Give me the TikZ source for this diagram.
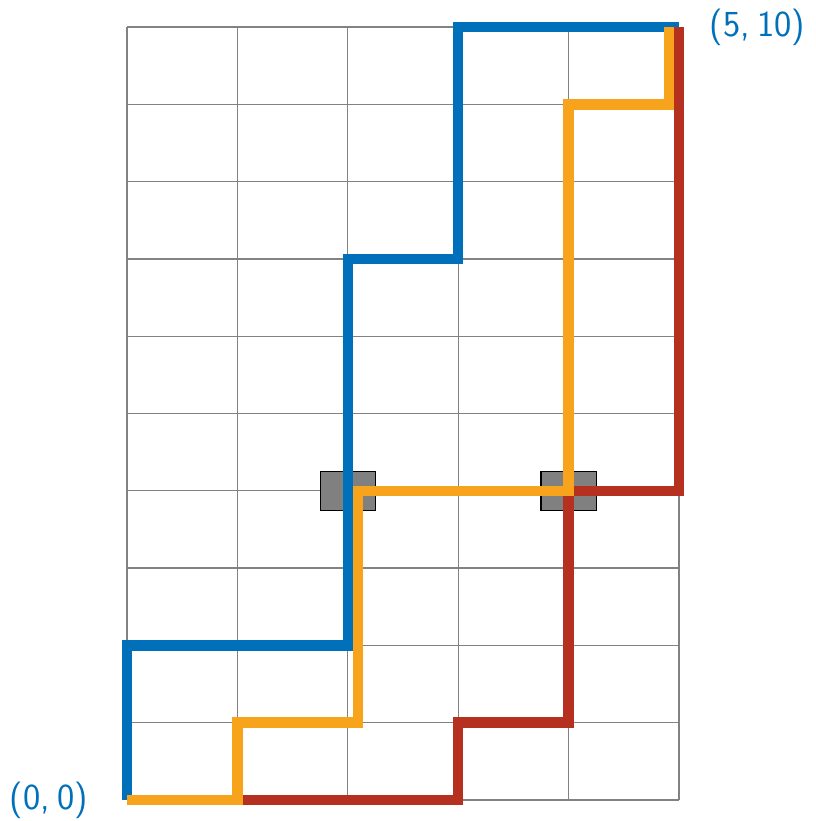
\documentclass[tikz,border=0pt]{standalone}
\usepackage{tikz}
\definecolor{pblue}{RGB}{0,112,186}
\definecolor{porange}{RGB}{247,163,28}
\definecolor{pred}{RGB}{181,48,30}
\definecolor{pgrid}{RGB}{130,130,130}
\definecolor{pbox}{RGB}{128,128,128}
\tikzset{
  gridline/.style={draw=pgrid, line width=1pt},
  pathline/.style={line width=7.9pt, line cap=butt, line join=miter},
  sq/.style={draw=black, fill=pbox, line width=0.9pt, minimum width=41.4pt, minimum height=29pt, inner sep=0pt},
  lbl/.style={text=pblue, font=\sffamily\fontsize{27.5}{31}\selectfont, inner sep=0pt}
}
\begin{document}
\begin{tikzpicture}[x=82.8pt, y=57.975pt]
\useasboundingbox (-95.25pt,-15.75pt) rectangle (516.75pt,600pt);
\foreach \i in {0,...,5} \draw[gridline] (\i,0) -- (\i,10);
\foreach \j in {0,...,10} \draw[gridline] (0,\j) -- (5,\j);
\node[sq] (s1) at (2,4) {};
\node[sq] (s2) at (4,4) {};
\def\d{0.0906}
\draw[pathline, pblue] (0,0) -- (0,2) -- (2,2) -- (2,7) -- (3,7) -- (3,10) -- (5,10);
\draw[pathline, pred] (1,0) -- (3,0) -- (3,1) -- (4,1) -- (4,4) -- (5,4) -- (5,10);
\draw[pathline, porange] (0,0) -- (1,0) -- (1,1) -- (2+\d,1) -- (2+\d,4) -- (4,4) -- (4,9) -- (5-\d,9) -- (5-\d,10);
\coordinate (o) at (0,0);
\coordinate (e) at (5,10);
\node[lbl, anchor=east] (lo) at ([xshift=-29pt]o) {(0,\kern0.2em0)};
\node[lbl, anchor=west] (le) at ([xshift=23pt]e) {(5,\kern0.2em10)};
\end{tikzpicture}
\end{document}
